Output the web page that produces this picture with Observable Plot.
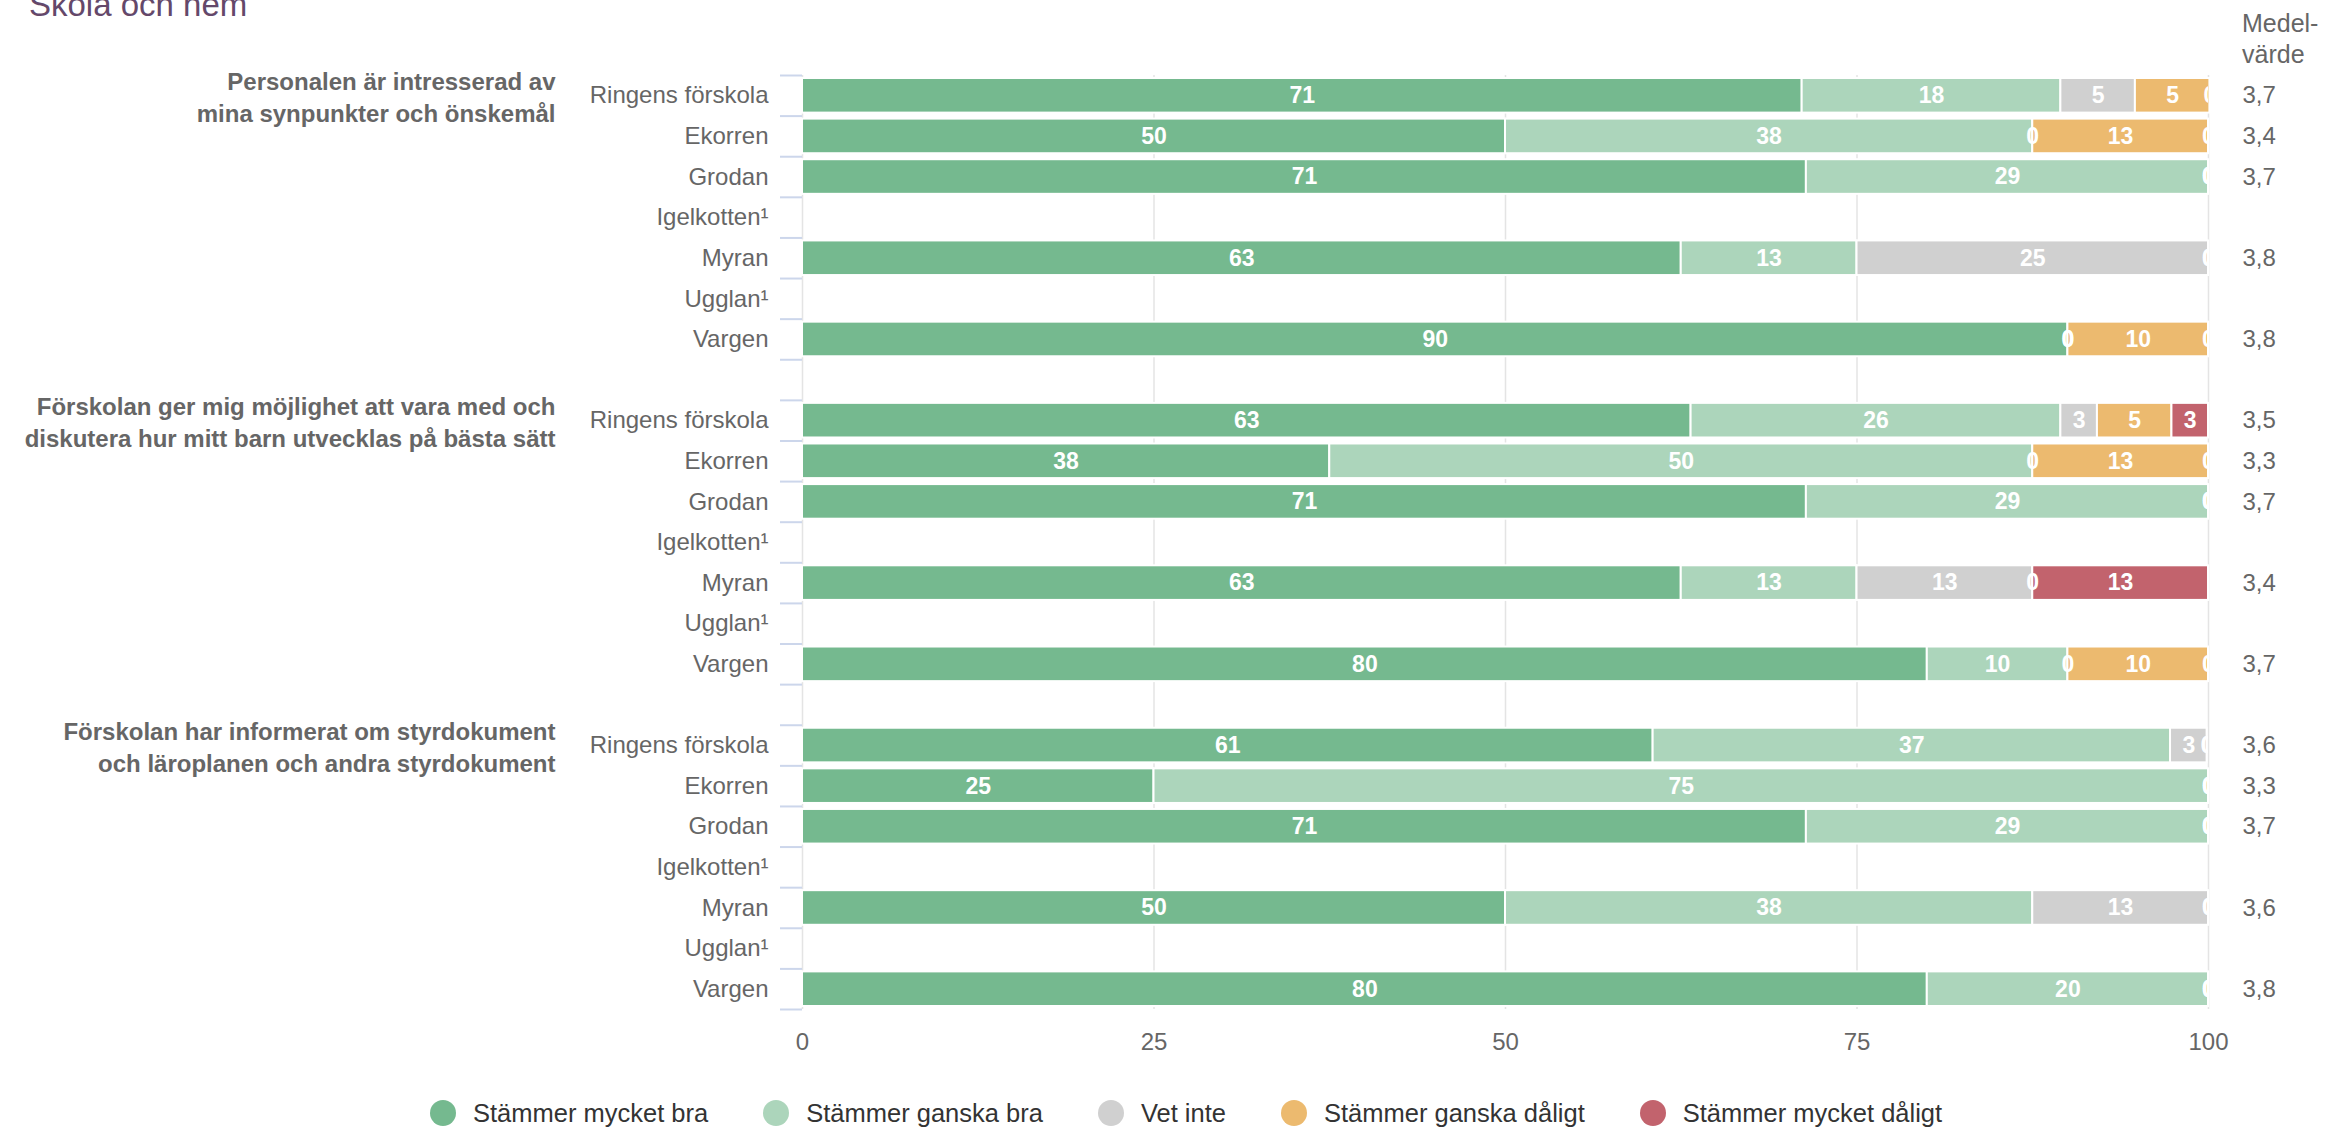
<!DOCTYPE html>
<html><head><meta charset="utf-8">
<script src="https://cdn.jsdelivr.net/npm/d3@7"></script>
<script src="https://cdn.jsdelivr.net/npm/@observablehq/plot@0.6"></script>
<style>
html,body{margin:0;padding:0;background:#fff;}
body{width:2338px;height:1130px;overflow:hidden;position:relative;font-family:"Liberation Sans",Arial,Helvetica,sans-serif;}
#chart svg{display:block;}
#title{position:absolute;left:29px;top:-12px;font-size:33px;line-height:33px;color:#64486a;white-space:nowrap;}
#medel{position:absolute;left:2242px;top:8px;font-size:25px;line-height:31px;color:#666;}
#legend{display:flex;align-items:center;height:26px;margin-top:25px;padding-left:430px;}
.item{display:flex;align-items:center;margin-right:55px;font-size:25.5px;color:#333;white-space:nowrap;}
.sw{width:26px;height:26px;border-radius:50%;margin-right:17px;flex:none;}
</style></head>
<body>
<div id="chart"></div>
<div id="legend"></div>
<div id="title">Skola och hem</div>
<div id="medel">Medel-<br>värde</div>
<script>
const categories = ["Stämmer mycket bra", "Stämmer ganska bra", "Vet inte", "Stämmer ganska dåligt", "Stämmer mycket dåligt"];
const colors = ["#75b98f", "#acd5bb", "#d0d0d0", "#ecba6f", "#c2636d"];
const units = ["Ringens förskola", "Ekorren", "Grodan", "Igelkotten¹", "Myran", "Ugglan¹", "Vargen"];
const questions = [
  "Personalen är intresserad av\nmina synpunkter och önskemål",
  "Förskolan ger mig möjlighet att vara med och\ndiskutera hur mitt barn utvecklas på bästa sätt",
  "Förskolan har informerat om styrdokument\noch läroplanen och andra styrdokument"
];
// percent per unit, in category order (null = no data)
const q1Values = [
  [71.1, 18.4, 5.3, 5.3, 0],
  [50, 37.5, 0, 12.5, 0],
  [71.4, 28.6, 0, 0, 0],
  null,
  [62.5, 12.5, 25, 0, 0],
  null,
  [90, 0, 0, 10, 0]
];
const q2Values = [
  [63.2, 26.3, 2.6, 5.3, 2.6],
  [37.5, 50, 0, 12.5, 0],
  [71.4, 28.6, 0, 0, 0],
  null,
  [62.5, 12.5, 12.5, 0, 12.5],
  null,
  [80, 10, 0, 10, 0]
];
const q3Values = [
  [60.5, 36.8, 2.6, 0, 0],
  [25, 75, 0, 0, 0],
  [71.4, 28.6, 0, 0, 0],
  null,
  [50, 37.5, 12.5, 0, 0],
  null,
  [80, 20, 0, 0, 0]
];
const q1Means = [3.7, 3.4, 3.7, null, 3.8, null, 3.8];
const q2Means = [3.5, 3.3, 3.7, null, 3.4, null, 3.7];
const q3Means = [3.6, 3.3, 3.7, null, 3.6, null, 3.8];
const xTicks = [0, 25, 50, 75, 100];

const allValues = [q1Values, q2Values, q3Values];
const allMeans = [q1Means, q2Means, q3Means];

const rowKeys = [];
const bars = [];
const means = [];
const qLabels = [];
allValues.forEach((vals, gi) => {
  units.forEach((u, ui) => {
    const key = gi + "|" + u;
    rowKeys.push(key);
    if (ui === 0) qLabels.push({key, text: questions[gi]});
    if (vals[ui]) vals[ui].forEach((v, ci) => bars.push({key, cat: categories[ci], value: v}));
    if (allMeans[gi][ui] != null) means.push({key, mean: allMeans[gi][ui]});
  });
  if (gi < allValues.length - 1) rowKeys.push(gi + "|");
});

const W = 2338, H = 1075, mL = 802, mR = 130, mT = 75, mB = 66;
const step = (H - mT - mB) / rowKeys.length;

const chart = Plot.plot({
  width: W, height: H,
  marginLeft: mL, marginRight: mR, marginTop: mT, marginBottom: mB,
  style: {fontFamily: "Liberation Sans, Arial, Helvetica, sans-serif", fontSize: "24px", color: "#666", background: "#fff"},
  x: {domain: [0, 100]},
  y: {domain: rowKeys, padding: 0, round: false},
  color: {domain: categories, range: colors},
  marks: [
    Plot.gridX(xTicks, {stroke: "#e4e4e4", strokeOpacity: 1, strokeWidth: 1.5}),
    Plot.axisX({ticks: xTicks, tickSize: 0, tickPadding: 23, fontSize: 24, fill: "#666", label: null, tickFormat: d => String(d)}),
    Plot.axisY({ticks: rowKeys, tickSize: 0, tickPadding: 34, fontSize: 24, fill: "#666", label: null, tickFormat: k => k.split("|")[1]}),
    Plot.axisY({ticks: rowKeys, tickSize: 22, stroke: "#ccd6eb", strokeWidth: 2, label: null, tickFormat: () => "", dy: -step / 2}),
    Plot.axisY({ticks: [rowKeys[rowKeys.length - 1]], tickSize: 22, stroke: "#ccd6eb", strokeWidth: 2, label: null, tickFormat: () => "", dy: step / 2}),
    Plot.barX(bars, Plot.stackX({x: "value", y: "key", fill: "cat", z: "cat", stroke: "white", strokeWidth: 2, insetTop: 3, insetBottom: 3, filter: d => d.value > 0})),
    Plot.text(bars, Plot.stackX({x: "value", y: "key", z: "cat", text: d => String(Math.round(d.value)), fill: "white", fontWeight: "bold", fontSize: 23, clip: true})),
    Plot.text(means, {y: "key", text: d => d.mean.toFixed(1).replace(".", ","), frameAnchor: "right", textAnchor: "start", dx: 34, fontSize: 24, fill: "#666"}),
    Plot.text(qLabels, {y: "key", text: "text", frameAnchor: "left", textAnchor: "end", dx: -247, fontWeight: "bold", fontSize: 24, lineHeight: 1.32, fill: "#666"})
  ]
});
document.getElementById("chart").appendChild(chart);

const legend = document.getElementById("legend");
categories.forEach((c, i) => {
  const item = document.createElement("div");
  item.className = "item";
  const sw = document.createElement("span");
  sw.className = "sw";
  sw.style.background = colors[i];
  const t = document.createElement("span");
  t.textContent = c;
  item.appendChild(sw);
  item.appendChild(t);
  legend.appendChild(item);
});
</script>
</body></html>
